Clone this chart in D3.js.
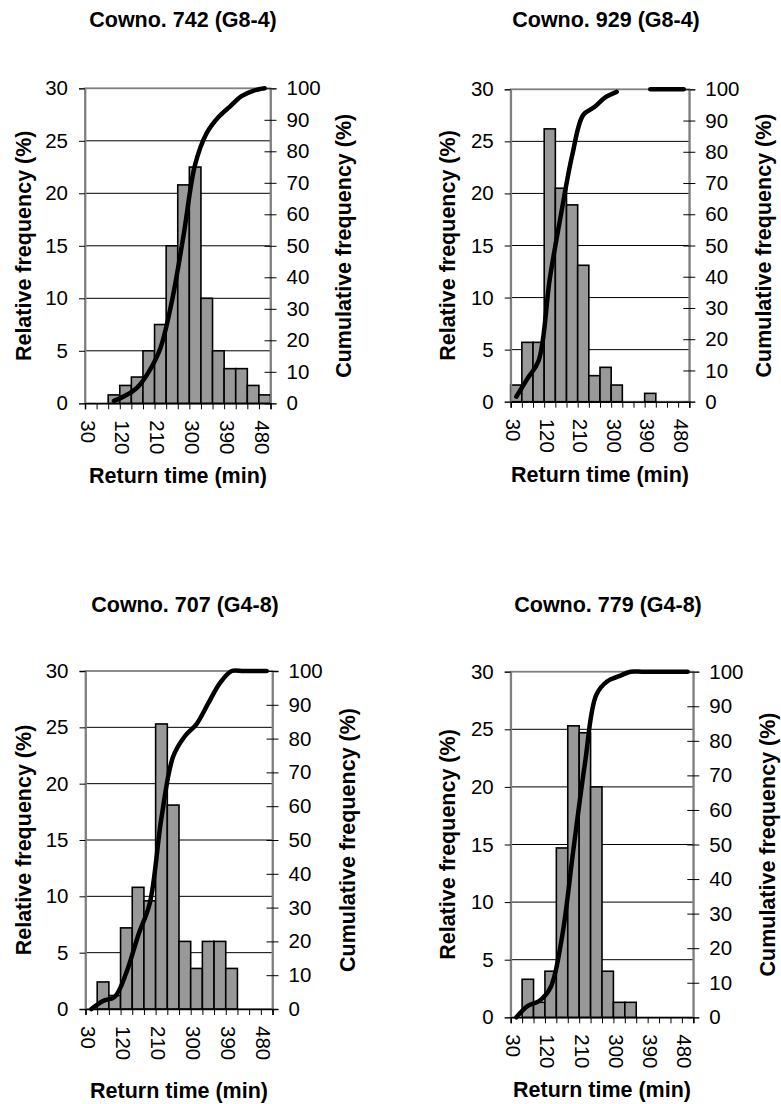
<!DOCTYPE html>
<html>
<head>
<meta charset="utf-8">
<script src="https://cdn.jsdelivr.net/npm/d3@7"></script>
<style>
  html, body { margin: 0; padding: 0; background: #fff; }
  svg { display: block; }
  text { font-family: "Liberation Sans", Arial, sans-serif; fill: #000; }
</style>
</head>
<body>
<svg id="chart" width="781" height="1104"></svg>
<script>
// ---- data ----
const categories = [30, 60, 90, 120, 150, 180, 210, 240, 270, 300, 330, 360, 390, 420, 450, 480];
const xTickLabels = [30, 120, 210, 300, 390, 480];
const leftTicks = [0, 5, 10, 15, 20, 25, 30];
const rightTicks = [0, 10, 20, 30, 40, 50, 60, 70, 80, 90, 100];

const titles = ["Cowno. 742 (G8-4)", "Cowno. 929 (G8-4)", "Cowno. 707 (G4-8)", "Cowno. 779 (G4-8)"];

const freq742 = [0, 0, 0.8, 1.7, 2.5, 5.0, 7.5, 15.0, 20.8, 22.5, 10.0, 5.0, 3.3, 3.3, 1.7, 0.8];
const cum742  = [null, null, 0.8, 2.5, 5.0, 10.0, 17.5, 32.5, 53.3, 75.8, 85.8, 90.8, 94.2, 97.5, 99.2, 100];

const freq929 = [1.6, 5.7, 5.7, 26.2, 20.5, 18.9, 13.1, 2.5, 3.3, 1.6, 0, 0, 0.8, 0, 0, 0];
const cum929  = [1.6, 7.4, 13.1, 39.3, 59.8, 78.7, 91.8, 94.3, 97.5, 99.2, null, null, 100, 100, 100, 100];

const freq707 = [0, 2.4, 1.2, 7.2, 10.8, 9.6, 25.3, 18.1, 6.0, 3.6, 6.0, 6.0, 3.6, 0, 0, 0];
const cum707  = [0, 2.4, 3.6, 10.8, 21.7, 31.3, 56.6, 74.7, 80.7, 84.3, 90.4, 96.4, 100, 100, 100, 100];

const freq779 = [0, 3.3, 1.3, 4.0, 14.7, 25.3, 24.7, 20.0, 4.0, 1.3, 1.3, 0, 0, 0, 0, 0];
const cum779  = [0, 3.3, 4.7, 8.7, 23.3, 48.7, 73.3, 93.3, 97.3, 98.7, 100, 100, 100, 100, 100, 100];

const yLabel = "Relative frequency (%)";
const y2Label = "Cumulative frequency (%)";
const xLabel = "Return time (min)";

// ---- layout ----
const layouts = [
  {L: 85,    R: 270.5, T: 88.3,  B: 403.3,  tx: 183, ty: 27,  yl: 23,  y2l: 343, xtx: 178, xty: 483},
  {L: 510.7, R: 689.3, T: 89.3,  B: 401.7,  tx: 606, ty: 27,  yl: 447, y2l: 763, xtx: 600, xty: 482},
  {L: 85.5,  R: 272.5, T: 671,   B: 1009,   tx: 185, ty: 612, yl: 23,  y2l: 347, xtx: 179, xty: 1098},
  {L: 510.7, R: 693.3, T: 671.7, B: 1017.3, tx: 608, ty: 612, yl: 447, y2l: 767, xtx: 602, xty: 1097}
];

const panels = [
  {title: titles[0], freq: freq742, cum: cum742},
  {title: titles[1], freq: freq929, cum: cum929},
  {title: titles[2], freq: freq707, cum: cum707},
  {title: titles[3], freq: freq779, cum: cum779}
];

const svg = d3.select("#chart");
const tickFont = 20.5, titleFont = 21.5;

panels.forEach((p, i) => {
  const lay = layouts[i];
  const g = svg.append("g");
  const x = d3.scaleBand().domain(categories).range([lay.L, lay.R]).padding(0);
  const bw = x.bandwidth();
  const xb = d3.scaleLinear().domain([0, categories.length]).range([lay.L, lay.R]);
  const y = d3.scaleLinear().domain([0, 30]).range([lay.B, lay.T]);
  const y2 = d3.scaleLinear().domain([0, 100]).range([lay.B, lay.T]);

  // gridlines
  g.append("g").selectAll("line").data(leftTicks.filter(v => v > 0 && v < 30)).join("line")
    .attr("x1", lay.L).attr("x2", lay.R)
    .attr("y1", d => y(d)).attr("y2", d => y(d))
    .attr("stroke", "#000").attr("stroke-width", 1);

  // plot border
  g.append("rect").attr("x", lay.L).attr("y", lay.T)
    .attr("width", lay.R - lay.L).attr("height", lay.B - lay.T)
    .attr("fill", "none").attr("stroke", "#808080").attr("stroke-width", 1.8);

  // bars
  g.append("g").selectAll("rect").data(categories.map((c, k) => ({c, v: p.freq[k]})).filter(d => d.v > 0)).join("rect")
    .attr("x", d => x(d.c)).attr("y", d => y(d.v))
    .attr("width", bw).attr("height", d => y(0) - y(d.v))
    .attr("fill", "#999999").attr("stroke", "#000").attr("stroke-width", 1.6);

  // left axis
  const la = g.append("g").attr("transform", `translate(${lay.L},0)`)
    .call(d3.axisLeft(y).tickValues(leftTicks).tickSize(6).tickPadding(11));
  la.select(".domain").attr("stroke", "#808080").attr("stroke-width", 1.8);
  la.selectAll("text").attr("font-size", tickFont).style("font-family", "Liberation Sans, Arial, sans-serif");

  // right axis (cross ticks)
  const ra = g.append("g").attr("transform", `translate(${lay.R},0)`)
    .call(d3.axisRight(y2).tickValues(rightTicks).tickSize(6).tickPadding(10));
  ra.select(".domain").attr("stroke", "#808080").attr("stroke-width", 1.8);
  ra.selectAll(".tick line").attr("x1", -6);
  ra.selectAll("text").attr("font-size", tickFont).style("font-family", "Liberation Sans, Arial, sans-serif");

  // bottom axis ticks at category boundaries
  const ba = g.append("g").attr("transform", `translate(0,${lay.B})`)
    .call(d3.axisBottom(xb).tickValues(d3.range(categories.length + 1)).tickSize(6).tickFormat(""));
  ba.select(".domain").attr("stroke", "#000").attr("stroke-width", 1.5);

  // bottom labels, rotated
  g.append("g").selectAll("text").data(xTickLabels).join("text")
    .attr("transform", d => `translate(${x(d) + bw / 2 - 3},${lay.B + 17}) rotate(90)`)
    .attr("dy", "0.35em").attr("text-anchor", "start")
    .attr("font-size", tickFont).text(d => d);

  // cumulative line
  const line = d3.line()
    .defined(d => d.v != null)
    .x(d => x(d.c) + bw / 2)
    .y(d => y2(d.v))
    .curve(d3.curveCatmullRom.alpha(0.5));
  g.append("path").datum(categories.map((c, k) => ({c, v: p.cum[k]})))
    .attr("d", line).attr("fill", "none").attr("stroke", "#000")
    .attr("stroke-width", 4.5).attr("stroke-linecap", "round").attr("stroke-linejoin", "round");

  // titles
  g.append("text").attr("x", lay.tx).attr("y", lay.ty).attr("text-anchor", "middle")
    .attr("font-size", titleFont).attr("font-weight", "bold").text(p.title);
  g.append("text").attr("x", lay.xtx).attr("y", lay.xty).attr("text-anchor", "middle")
    .attr("font-size", titleFont).attr("font-weight", "bold").text(xLabel);
  const cy = (lay.T + lay.B) / 2;
  g.append("text").attr("transform", `translate(${lay.yl},${cy}) rotate(-90)`)
    .attr("dy", "0.35em").attr("text-anchor", "middle")
    .attr("font-size", titleFont).attr("font-weight", "bold").text(yLabel);
  g.append("text").attr("transform", `translate(${lay.y2l},${cy}) rotate(-90)`)
    .attr("dy", "0.35em").attr("text-anchor", "middle")
    .attr("font-size", titleFont).attr("font-weight", "bold").text(y2Label);
});
</script>
</body>
</html>
